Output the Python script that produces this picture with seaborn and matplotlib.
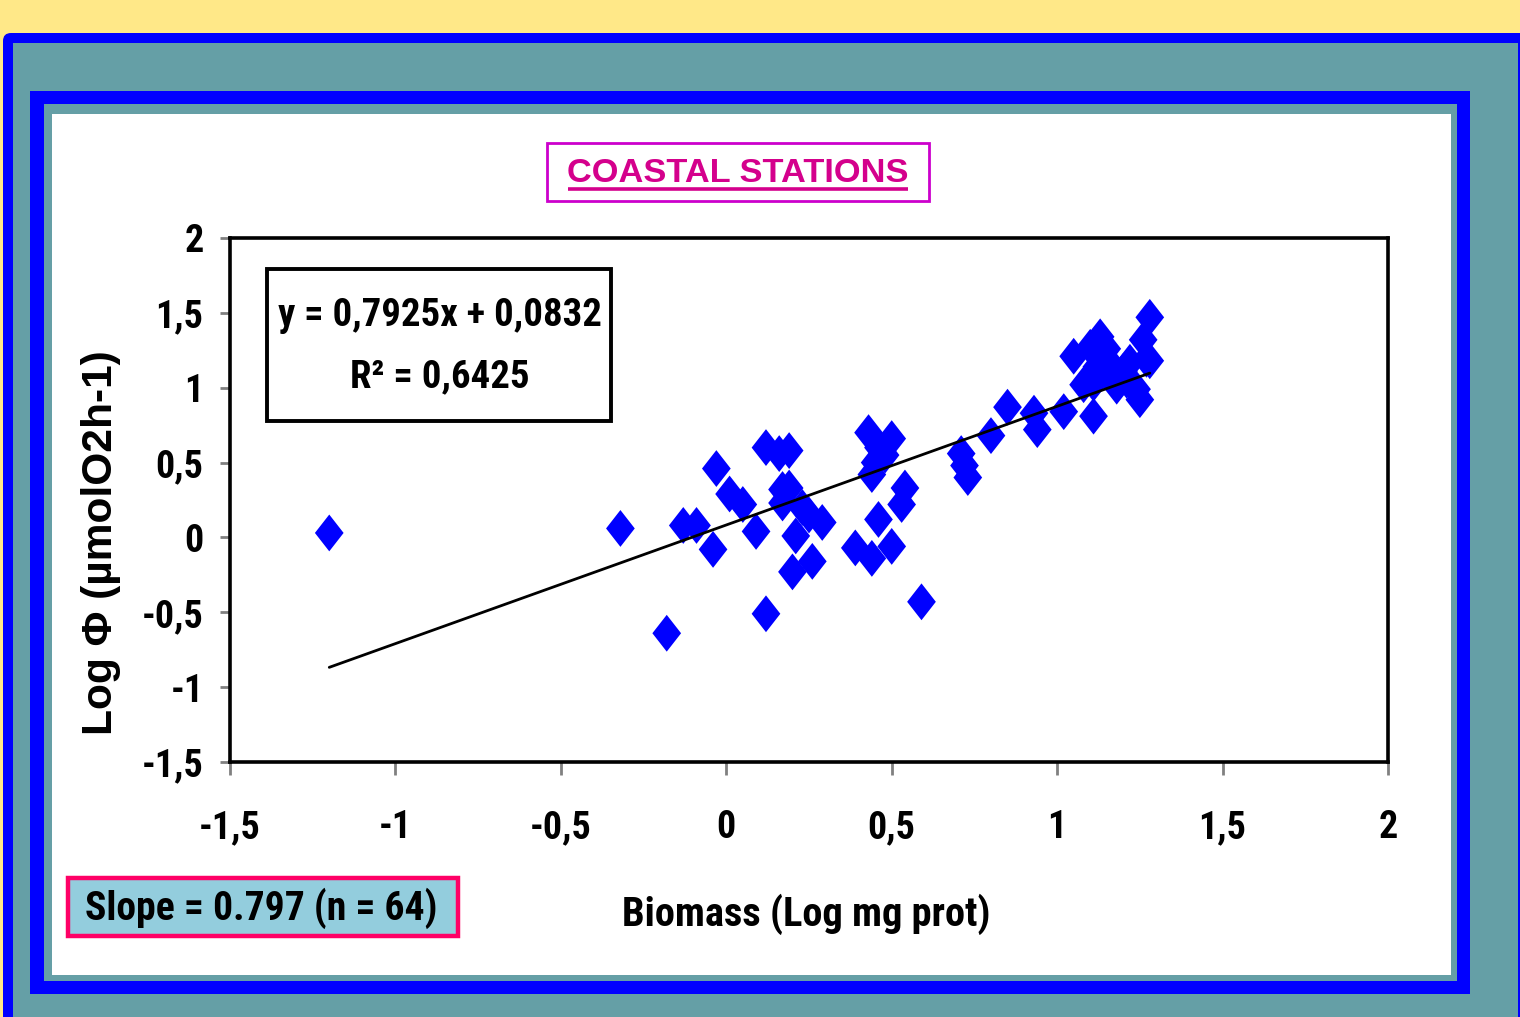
import numpy as np
import pandas as pd
import matplotlib
matplotlib.use("Agg")
import matplotlib.pyplot as plt
from matplotlib import font_manager as fm
from matplotlib.patches import Rectangle, FancyBboxPatch
from matplotlib.path import Path
import seaborn as sns

# Biomass (log mg prot) and respiration (log umol O2 h-1) at coastal stations
biomass = [-1.20, -0.32, -0.18, -0.13, -0.09, -0.04, -0.03, 0.01, 0.05, 0.09,
           0.12, 0.12, 0.16, 0.19, 0.17, 0.17, 0.23, 0.29, 0.21, 0.26,
           0.20, 0.43, 0.50, 0.46, 0.45, 0.44, 0.54, 0.53, 0.46, 0.39,
           0.44, 0.50, 0.59, 0.71, 0.73, 0.72, 0.80, 0.85, 0.93, 0.94,
           1.02, 1.05, 1.10, 1.13, 1.12, 1.11, 1.11, 1.17, 1.22, 1.27,
           1.26, 1.28, 1.24, 1.25, 1.18, 1.15, 1.20, 1.28, 1.08, 0.19,
           0.25, 0.48, 1.21, 1.15]
log_phi = [0.03, 0.06, -0.64, 0.08, 0.08, -0.08, 0.46, 0.29, 0.22, 0.04,
           0.60, -0.51, 0.56, 0.58, 0.32, 0.23, 0.20, 0.10, 0.01, -0.16,
           -0.23, 0.70, 0.66, 0.60, 0.50, 0.42, 0.33, 0.22, 0.12, -0.07,
           -0.14, -0.06, -0.43, 0.56, 0.40, 0.48, 0.68, 0.87, 0.83, 0.72,
           0.84, 1.21, 1.27, 1.34, 1.14, 1.03, 0.81, 1.08, 1.17, 1.19,
           1.32, 1.47, 0.99, 0.92, 1.01, 1.19, 1.11, 1.18, 1.02, 0.33,
           0.15, 0.55, 1.05, 1.26]

slope = 0.7925
intercept = 0.0832

x_ticks = [-1.5, -1, -0.5, 0, 0.5, 1, 1.5, 2]
x_tick_labels = ["-1,5", "-1", "-0,5", "0", "0,5", "1", "1,5", "2"]
y_ticks = [-1.5, -1, -0.5, 0, 0.5, 1, 1.5, 2]
y_tick_labels = ["-1,5", "-1", "-0,5", "0", "0,5", "1", "1,5", "2"]

title_text = "COASTAL STATIONS"
x_label = "Biomass (Log mg prot)"
y_label = "Log \u03a6 (\u00b5molO2h-1)"
equation_text = "y = 0,7925x + 0,0832"
r2_text = "R\u00b2 = 0,6425"
slope_text = "Slope = 0.797 (n = 64)"

df = pd.DataFrame({"biomass": biomass, "log_phi": log_phi})
fit = pd.DataFrame({"biomass": sorted(biomass)})
fit["log_phi"] = slope * fit["biomass"] + intercept

sns.set_style("white")

# Pick a narrow bold face when one is installed
entries = fm.fontManager.ttflist
names = {f.name for f in entries}
narrow_family, narrow_stretch = None, "normal"
for cand in ["Liberation Sans Narrow", "Arial Narrow", "DejaVu Sans Condensed",
             "Roboto Condensed", "Open Sans Condensed", "Noto Sans Condensed"]:
    if cand in names:
        narrow_family = cand
        break
if narrow_family is None:
    for pref in ["Liberation Sans", "Roboto", "Noto Sans", "Open Sans", "DejaVu Sans", "Inter", "Lato"]:
        cond = [f for f in entries if f.name == pref and str(f.stretch) in ("condensed", "semi-condensed")]
        if cond:
            narrow_family, narrow_stretch = pref, str(cond[0].stretch)
            break
if narrow_family is None:
    narrow_family = "Liberation Sans"

NARROW = dict(family=[narrow_family, "DejaVu Sans"], fontstretch=narrow_stretch, fontweight="bold")
REGULAR = dict(family=["Liberation Sans", "DejaVu Sans"], fontweight="bold")
plt.rcParams["font.family"] = ["Liberation Sans", "DejaVu Sans"]
plt.rcParams["text.color"] = "black"

W, H = 1520, 1017
fig = plt.figure(figsize=(W / 100, H / 100), dpi=100)
fig.patch.set_facecolor("#FFE888")
renderer = fig.canvas.get_renderer()


def fit_width(artist, target_px):
    # scale the font size so the rendered text spans target_px pixels
    for _ in range(3):
        w = artist.get_window_extent(renderer).width
        if w > 0:
            artist.set_fontsize(artist.get_fontsize() * target_px / w)
    return artist.get_fontsize()


# Background frame drawn in pixel coordinates
bg = fig.add_axes([0, 0, 1, 1], zorder=0)
bg.set_xlim(0, W)
bg.set_ylim(H, 0)
bg.axis("off")
BLUE = "#0000FF"
TEAL = "#659FA6"
bg.add_patch(FancyBboxPatch((3, 33), 1560, 1040, boxstyle="round,pad=0,rounding_size=8",
                            facecolor=BLUE, edgecolor="none"))
bg.add_patch(Rectangle((13, 43), 1505, 1000, facecolor=TEAL, edgecolor="none"))
bg.add_patch(Rectangle((30, 91), 1440, 903, facecolor=BLUE, edgecolor="none"))
bg.add_patch(Rectangle((44, 104), 1413, 877, facecolor=TEAL, edgecolor="none"))
bg.add_patch(Rectangle((52, 114), 1399, 861, facecolor="white", edgecolor="none"))

# Title box
bg.add_patch(Rectangle((547, 143), 382, 58, facecolor="white", edgecolor="#CC00CC", linewidth=2))
t = bg.text(738, 174, title_text, ha="center", va="center", fontsize=24,
            color="#D4008C", **REGULAR)
fit_width(t, 340)
bg.plot([568, 908], [189, 189], color="#D4008C", linewidth=2.6, solid_capstyle="butt")

# Slope box
bg.add_patch(Rectangle((68, 878), 390, 58, facecolor="#93CDDD", edgecolor="#FF0066", linewidth=3.2))
t = bg.text(261, 908, slope_text, ha="center", va="center", fontsize=25, color="black", **NARROW)
fit_width(t, 352)

# Axis labels
t = bg.text(101, 543, y_label, ha="center", va="center", rotation=90, fontsize=28,
            color="black", **REGULAR)
for _ in range(3):
    h = t.get_window_extent(renderer).height
    t.set_fontsize(t.get_fontsize() * 385 / h)
t = bg.text(806, 914, x_label, ha="center", va="center", fontsize=28, color="black", **NARROW)
fit_width(t, 368)

# Main scatter axes
x0, x1, y0, y1 = 230, 1388, 238, 762
ax = fig.add_axes([x0 / W, 1 - y1 / H, (x1 - x0) / W, (y1 - y0) / H], zorder=2)
ax.set_facecolor("white")

diamond = Path([(0, 1), (0.78, 0), (0, -1), (-0.78, 0), (0, 1)],
               [Path.MOVETO, Path.LINETO, Path.LINETO, Path.LINETO, Path.CLOSEPOLY])
sns.scatterplot(data=df, x="biomass", y="log_phi", marker=diamond, s=26.5 ** 2,
                color=BLUE, edgecolor="none", linewidth=0, ax=ax, zorder=3)
sns.lineplot(data=fit, x="biomass", y="log_phi", color="black", linewidth=2.0,
             sort=True, ax=ax, zorder=4)

ax.set_xlim(-1.5, 2)
ax.set_ylim(-1.5, 2)
ax.set_xticks(x_ticks)
ax.set_yticks(y_ticks)
ax.set_xlabel("")
ax.set_ylabel("")

# Tick label size from the width of one label
probe = bg.text(0, 0, "-1,5", fontsize=28, **NARROW)
tick_size = fit_width(probe, 62)
probe.remove()
ax.set_xticklabels(x_tick_labels, fontsize=tick_size, **NARROW)
ax.set_yticklabels(y_tick_labels, fontsize=tick_size, **NARROW)
ax.tick_params(axis="x", direction="out", length=9, width=2, color="#808080",
               labelcolor="black", pad=25)
ax.tick_params(axis="y", direction="out", length=7, width=2, color="#808080",
               labelcolor="black", pad=12)
ax.tick_params(bottom=True, left=True, top=False, right=False)
for side in ["top", "right", "bottom", "left"]:
    ax.spines[side].set_visible(True)
    ax.spines[side].set_color("black")
    ax.spines[side].set_linewidth(2.6)
ax.grid(False)


# Regression equation box (pixel coordinates converted to axes fractions)
def to_axes(px, py):
    return (px - x0) / (x1 - x0), (y1 - py) / (y1 - y0)


bx0, by0 = to_axes(267, 421)
bx1, by1 = to_axes(611, 269)
ax.add_patch(Rectangle((bx0, by0), bx1 - bx0, by1 - by0, transform=ax.transAxes,
                       facecolor="white", edgecolor="black", linewidth=2.8, zorder=5))
tx, ty = to_axes(440, 316)
t = ax.text(tx, ty, equation_text, transform=ax.transAxes, ha="center", va="center",
            fontsize=28, zorder=6, **NARROW)
eq_size = fit_width(t, 324)
tx, ty = to_axes(440, 377)
ax.text(tx, ty, r2_text, transform=ax.transAxes, ha="center", va="center",
        fontsize=eq_size, zorder=6, **NARROW)

fig.savefig("out.png", dpi=100, facecolor=fig.get_facecolor())
